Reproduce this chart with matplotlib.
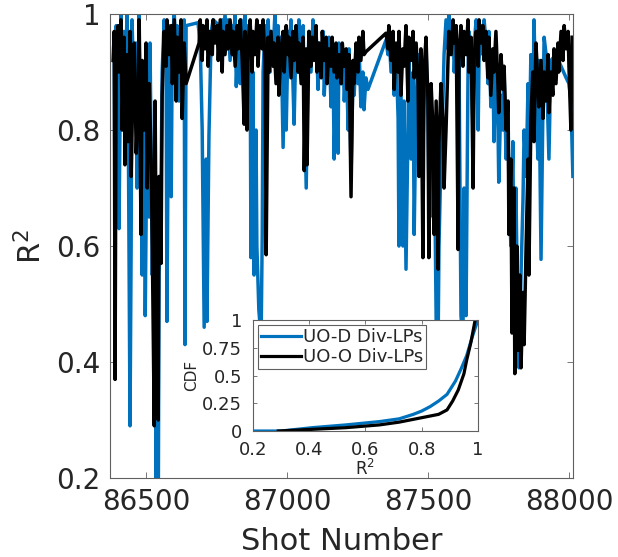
import numpy as np
import matplotlib.pyplot as plt

# R^2 of the fits per shot, UO-D divertor LPs (blue)
shot_d = [86387, 86390, 86394, 86401, 86404, 86411, 86415, 86422, 86425, 86432,
          86436, 86443, 86447, 86450, 86458, 86465, 86468, 86475, 86482, 86486,
          86493, 86497, 86504, 86511, 86514, 86522, 86529, 86536, 86539, 86543,
          86546, 86553, 86557, 86564, 86571, 86574, 86581, 86589, 86593, 86600,
          86607, 86610, 86617, 86624, 86628, 86635, 86638, 86642,
          86684, 86692, 86699, 86706, 86713, 86716, 86723, 86731, 86738, 86749,
          86759, 86770, 86773, 86780, 86787, 86791, 86798, 86806, 86809, 86816,
          86820, 86827, 86834, 86837, 86844, 86851, 86855, 86862, 86869, 86872,
          86879, 86883, 86890, 86893, 86900, 86908, 86912, 86915, 86922, 86926,
          86933, 86940, 86943, 86950, 86957, 86961, 86968, 86975, 86979, 86986,
          86993, 86997, 87004, 87007, 87014, 87021, 87025, 87032, 87039, 87042,
          87050, 87057, 87061, 87068, 87075, 87078, 87085, 87092, 87096, 87103,
          87110, 87113, 87121, 87128, 87132, 87139, 87146, 87149, 87156, 87163,
          87167, 87174, 87181, 87184, 87192, 87199, 87203, 87210, 87217, 87220,
          87227, 87234, 87238, 87245, 87252, 87255, 87262, 87269, 87273, 87280,
          87287,
          87351, 87358, 87361, 87369, 87376, 87380, 87387, 87394, 87397, 87404,
          87411, 87415, 87422, 87429, 87432, 87440, 87447, 87451, 87458, 87465,
          87468, 87475, 87482, 87486, 87493, 87500, 87503, 87511, 87518, 87522,
          87529, 87536, 87539, 87546, 87553, 87557, 87564, 87571, 87574, 87582,
          87589, 87593, 87600, 87607, 87610, 87617, 87624, 87628, 87635, 87642,
          87645, 87653, 87660, 87664, 87671, 87678, 87681, 87688, 87695, 87699,
          87706, 87713, 87716, 87723, 87730, 87734, 87741, 87748, 87751, 87759,
          87766, 87770, 87777, 87784, 87787, 87794, 87801, 87805, 87812, 87819,
          87823, 87830, 87837, 87841, 87848, 87855, 87858, 87865, 87872, 87876,
          87883, 87890, 87893, 87901, 87908, 87912, 87919, 87929, 87936, 87954,
          87972, 87990, 88000, 88007, 88014]
r2_d = [0.95, 0.63, 0.98, 0.90, 0.63, 1.00, 0.85, 0.97, 0.80, 1.00,
        0.88, 0.29, 0.60, 0.99, 0.85, 0.95, 0.70, 1.00, 0.80, 0.55,
        0.90, 0.48, 0.85, 0.65, 0.95, 0.55, 0.75, 0.15, 0.40, 0.10,
        0.55, 0.70, 0.90, 0.99, 0.93, 0.47, 0.98, 0.685, 0.95, 1.00,
        0.92, 0.98, 0.85, 0.97, 0.90, 0.99, 0.43, 0.98,
        0.985, 0.95, 0.80, 0.46, 0.75, 0.47, 0.79, 0.97, 0.99, 0.985,
        0.98, 0.99, 0.95, 1.00, 0.94, 0.99, 0.92, 0.98, 0.95, 1.00,
        0.875, 0.97, 0.88, 0.99, 0.94, 1.00, 0.93, 0.98, 0.95, 0.58,
        0.90, 0.55, 0.80, 0.60, 0.49, 0.44, 0.62, 0.90, 0.98, 0.93,
        0.99, 0.90, 0.97, 0.93, 1.00, 0.92, 0.98, 0.90, 0.96, 0.77,
        0.95, 0.80, 0.97, 0.92, 0.99, 0.88, 0.81, 0.96, 0.90, 0.99,
        0.93, 0.98, 0.88, 0.70, 0.93, 0.97, 0.90, 0.99, 0.93, 0.97,
        0.87, 0.95, 0.90, 0.97, 0.86, 0.94, 0.89, 0.96, 0.84, 0.93,
        0.75, 0.90, 0.76, 0.95, 0.88, 0.93, 0.85, 0.92, 0.80, 0.94,
        0.72, 0.90, 0.86, 0.93, 0.88, 0.95, 0.84, 0.90, 0.835, 0.89,
        0.87,
        0.955, 0.93, 0.97, 0.90, 0.95, 0.86, 0.93, 0.82, 0.60, 0.88,
        0.60, 0.85, 0.56, 0.80, 0.92, 0.75, 0.90, 0.62, 0.85, 0.93,
        0.80, 0.90, 0.75, 0.88, 0.94, 0.82, 0.70, 0.85, 0.65, 0.80,
        0.47, 0.44, 0.60, 0.75, 0.85, 0.93, 0.99, 0.94, 1.00, 0.95,
        0.98, 0.90, 0.97, 0.80, 0.93, 0.48, 0.44, 0.70, 0.48, 0.90,
        0.97, 0.93, 0.79, 0.95, 0.99, 0.80, 0.92, 0.98, 0.93, 0.99,
        0.95, 0.88, 0.97, 0.84, 0.93, 0.78, 0.90, 0.82, 0.71, 0.86,
        0.80, 0.90, 0.75, 0.84, 0.70, 0.60, 0.78, 0.55, 0.70, 0.45,
        0.39, 0.55, 0.68, 0.80, 0.72, 0.88, 0.74, 0.93, 0.80, 0.99,
        0.85, 0.75, 0.92, 0.577, 0.85, 0.96, 0.93, 0.75, 0.92, 0.93,
        0.91, 0.89, 0.88, 0.85, 0.72]

# R^2 of the fits per shot, UO-O divertor LPs (black)
shot_o = [86383, 86387, 86390, 86394, 86401, 86404, 86411, 86415, 86422, 86425,
          86432, 86436, 86443, 86447, 86454, 86458, 86465, 86472, 86475, 86482,
          86486, 86493, 86500, 86504, 86511, 86518, 86522, 86529, 86532, 86536,
          86543, 86546, 86553, 86557, 86564, 86571, 86574, 86581, 86589, 86593,
          86600, 86607, 86610, 86617, 86624, 86628, 86635, 86642,
          86688, 86692, 86699, 86702, 86709, 86716, 86720, 86727, 86735, 86738,
          86745, 86752, 86756, 86763, 86770, 86773, 86780, 86787, 86791, 86798,
          86806, 86809, 86816, 86823, 86827, 86834, 86841, 86848, 86851, 86858,
          86862, 86869, 86876, 86879, 86886, 86893, 86897, 86904, 86912, 86915,
          86922, 86926, 86933, 86936, 86943, 86950, 86954, 86961, 86968, 86971,
          86979, 86986, 86990, 86997, 87004, 87007, 87014, 87021, 87025, 87032,
          87039, 87042, 87050, 87057, 87061, 87068, 87071, 87078, 87085, 87089,
          87096, 87103, 87106, 87113, 87121, 87125, 87132, 87139, 87142, 87149,
          87156, 87160, 87167, 87174, 87177, 87184, 87192, 87196, 87203, 87210,
          87213, 87220, 87227, 87234, 87238, 87245, 87252, 87255, 87262, 87269,
          87273, 87280,
          87351, 87358, 87361, 87369, 87376, 87380, 87387, 87394, 87397, 87404,
          87411, 87415, 87422, 87429, 87432, 87440, 87447, 87451, 87458, 87465,
          87468, 87475, 87482, 87486, 87493, 87500, 87503, 87511, 87518, 87522,
          87529, 87536, 87539, 87546, 87553, 87557, 87564, 87571, 87574, 87582,
          87589, 87593, 87600, 87607, 87610, 87617, 87624, 87628, 87635, 87642,
          87645, 87653, 87660, 87664, 87671, 87678, 87681, 87688, 87695, 87699,
          87706, 87713, 87716, 87723, 87730, 87734, 87741, 87748, 87751, 87759,
          87766, 87770, 87777, 87784, 87787, 87794, 87798, 87805, 87808, 87815,
          87819, 87826, 87830, 87837, 87841, 87848, 87855, 87858, 87865, 87872,
          87876, 87883, 87890, 87893, 87901, 87908, 87912, 87919, 87926, 87929,
          87936, 87943, 87947, 87954, 87961, 87964, 87972, 87979, 87983, 87990,
          87997, 88000, 88007, 88011]
r2_o = [0.92, 0.97, 0.37, 0.95, 0.98, 0.90, 0.99, 0.80, 0.96, 0.74,
        0.93, 0.78, 0.97, 0.72, 0.90, 0.95, 0.76, 0.86, 0.99, 0.62,
        0.92, 0.80, 0.95, 0.70, 0.88, 0.75, 0.60, 0.29, 0.85, 0.56,
        0.30, 0.72, 0.57, 0.86, 0.97, 0.91, 0.99, 0.93, 0.98, 0.88,
        0.99, 0.85, 0.96, 0.90, 0.99, 0.82, 0.95, 0.88,
        0.95, 0.99, 0.92, 0.98, 0.94, 0.99, 0.91, 0.97, 0.93, 0.99,
        0.95, 0.98, 0.92, 0.99, 0.90, 0.97, 0.93, 0.98, 0.94, 0.99,
        0.93, 0.97, 0.91, 0.98, 0.94, 0.99, 0.92, 0.81, 0.97, 0.80,
        0.95, 0.99, 0.90, 0.97, 0.93, 0.99, 0.91, 0.98, 0.94, 0.99,
        0.92, 0.585, 0.96, 0.90, 0.97, 0.91, 0.95, 0.88, 0.96, 0.86,
        0.94, 0.97, 0.90, 0.98, 0.93, 0.96, 0.89, 0.97, 0.92, 0.98,
        0.90, 0.95, 0.88, 0.96, 0.73, 0.94, 0.74, 0.97, 0.91, 0.96,
        0.92, 0.98, 0.90, 0.95, 0.89, 0.97, 0.92, 0.96, 0.88, 0.94,
        0.91, 0.96, 0.90, 0.95, 0.89, 0.93, 0.88, 0.95, 0.91, 0.94,
        0.87, 0.93, 0.685, 0.92, 0.88, 0.95, 0.90, 0.96, 0.92, 0.97,
        0.93, 0.935,
        0.967, 0.94, 0.98, 0.92, 0.97, 0.87, 0.95, 0.90, 0.97, 0.86,
        0.94, 0.91, 0.98, 0.85, 0.96, 0.92, 0.97, 0.89, 0.95, 0.88,
        0.72, 0.94, 0.58, 0.90, 0.96, 0.85, 0.58, 0.88, 0.80, 0.62,
        0.85, 0.56, 0.78, 0.88, 0.82, 0.70, 0.80, 0.92, 0.97, 0.93,
        0.99, 0.95, 0.98, 0.594, 0.94, 0.98, 0.91, 0.97, 0.93, 0.99,
        0.90, 0.96, 0.70, 0.93, 0.97, 0.91, 0.99, 0.95, 0.98, 0.92,
        0.97, 0.89, 0.96, 0.86, 0.94, 0.90, 0.97, 0.88, 0.83, 0.93,
        0.87, 0.91, 0.80, 0.85, 0.62, 0.75, 0.45, 0.70, 0.38, 0.60,
        0.42, 0.55, 0.39, 0.52, 0.43, 0.60, 0.75, 0.55, 0.82, 0.90,
        0.78, 0.95, 0.88, 0.84, 0.92, 0.82, 0.90, 0.85, 0.93, 0.83,
        0.90, 0.86, 0.94, 0.88, 0.95, 0.90, 0.97, 0.92, 0.98, 0.94,
        0.97, 0.91, 0.80, 0.96]

# CDF of R^2 (inset)
cdf_r2_d = [0.20, 0.30, 0.41, 0.53, 0.65, 0.72, 0.77, 0.80, 0.83, 0.86,
            0.89, 0.92, 0.94, 0.96, 0.98, 1.00]
cdf_d = [0.0, 0.0, 0.03, 0.055, 0.085, 0.11, 0.15, 0.18, 0.22, 0.27,
         0.33, 0.45, 0.56, 0.68, 0.85, 1.0]
cdf_r2_o = [0.29, 0.41, 0.53, 0.65, 0.72, 0.78, 0.83, 0.86, 0.89, 0.91,
            0.93, 0.95, 0.96, 0.975, 0.99]
cdf_o = [0.0, 0.015, 0.03, 0.055, 0.08, 0.11, 0.135, 0.15, 0.19, 0.27,
         0.37, 0.515, 0.64, 0.80, 1.0]

blue = '#0072BD'
txt = '#262626'
edge = '#606060'
plt.rcParams['font.family'] = 'DejaVu Sans'

fig = plt.figure(figsize=(6.18, 5.57), dpi=100)

ax = fig.add_axes([0.178, 0.1418, 0.749, 0.833])
ax.plot(shot_d, r2_d, color=blue, lw=2.5)
ax.plot(shot_o, r2_o, color='k', lw=2.5)
ax.set_xlim(86372, 88014)
ax.set_ylim(0.2, 1)
ax.set_xticks([86500, 87000, 87500, 88000])
ax.set_yticks([0.2, 0.4, 0.6, 0.8, 1.0])
ax.set_yticklabels(['0.2', '0.4', '0.6', '0.8', '1'])
ax.tick_params(direction='in', top=True, right=True, labelsize=20,
               length=4, width=0.6, pad=7, color=edge, labelcolor=txt)
ax.set_xlabel('Shot Number', fontsize=22, color=txt, labelpad=8)
ax.set_ylabel(r'$\mathrm{R}^2$', fontsize=22, color=txt, labelpad=6)
for s in ax.spines.values():
    s.set_color(edge)
    s.set_linewidth(0.8)

# inset with the CDFs
ins = fig.add_axes([0.4094, 0.2262, 0.364, 0.1993])
ins.plot(cdf_r2_d, cdf_d, color=blue, lw=2.3, label='UO-D Div-LPs')
ins.plot(cdf_r2_o, cdf_o, color='k', lw=2.3, label='UO-O Div-LPs')
ins.set_xlim(0.2, 1)
ins.set_ylim(0, 1)
ins.set_xticks([0.2, 0.4, 0.6, 0.8, 1.0])
ins.set_xticklabels(['0.2', '0.4', '0.6', '0.8', '1'])
ins.set_yticks([0, 0.25, 0.5, 0.75, 1])
ins.set_yticklabels(['0', '0.25', '0.5', '0.75', '1'])
ins.tick_params(direction='in', top=True, right=True, labelsize=13,
                length=3, width=0.6, color=edge, labelcolor=txt)
ins.tick_params(axis='x', pad=7)
ins.tick_params(axis='y', pad=8)
ins.set_xlabel(r'$\mathrm{R}^2$', fontsize=12, color=txt, labelpad=0)
ins.set_ylabel('CDF', fontsize=11, color=txt, labelpad=2)
for s in ins.spines.values():
    s.set_color(edge)
    s.set_linewidth(0.8)
leg = ins.legend(loc='upper left', fontsize=13, frameon=True, fancybox=False,
                 framealpha=1, edgecolor=edge, handlelength=2.2,
                 handletextpad=0.1, labelspacing=0.1, borderpad=0.15,
                 borderaxespad=0.3)
leg.get_frame().set_linewidth(0.8)
for t in leg.get_texts():
    t.set_color(txt)

fig.savefig('out.png', dpi=100)
